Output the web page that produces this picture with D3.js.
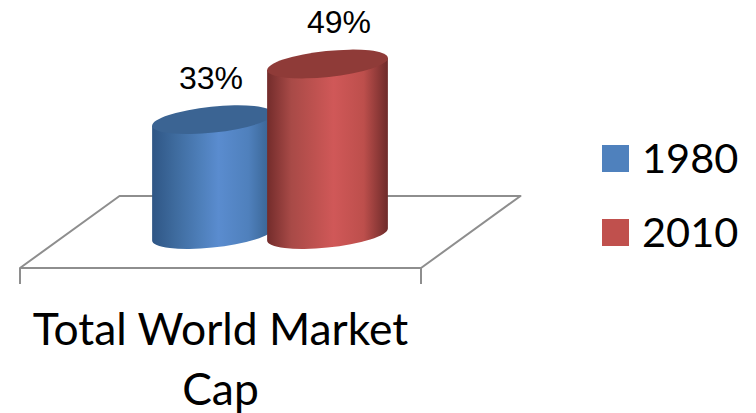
<!DOCTYPE html>
<html>
<head>
<meta charset="utf-8">
<script src="https://cdn.jsdelivr.net/npm/d3@7"></script>
<style>
html,body{margin:0;padding:0;background:#fff}
svg{display:block}
</style>
</head>
<body>
<script>
const categories = ["Total World Market Cap"];
const categoryLines = ["Total World Market", "Cap"];
const seriesNames = ["1980", "2010"];
const seriesValues = [33, 49];
const valueLabels = ["33%", "49%"];
const sideStops = [
  ["#2f5685", "#3f6c9f", "#4e7fba", "#5a8ccf", "#4f80bc", "#36618f"],
  ["#732c2b", "#a84a47", "#bf5250", "#d05858", "#bd4f4c", "#6e2b2a"]
];
const topColors = ["#3b6493", "#8f3b38"];
const swatchColors = ["#4f81bd", "#c0504d"];

const svg = d3.select("body").append("svg").attr("width", 756).attr("height", 413);
const defs = svg.append("defs");

const x = d3.scalePoint().domain(seriesNames).range([212.5, 327.5]);
const y = d3.scaleLinear().domain([0, 49]).range([234.5, 64]);

// Ellipse shape shared by every cylinder cap and base
const rx = 60.7, ry = 13, tilt = -6;
const th = tilt * Math.PI / 180;
const t0 = Math.atan(-(ry / rx) * Math.tan(th));
const edgeX = rx * Math.cos(t0) * Math.cos(th) - ry * Math.sin(t0) * Math.sin(th);
const edgeY = rx * Math.cos(t0) * Math.sin(th) + ry * Math.sin(t0) * Math.cos(th);

// Floor of the 3D plot
const floorLayer = svg.append("g").attr("fill", "none").attr("stroke", "#8e8e8e").attr("stroke-width", 2);
const floorX = d3.scaleLinear().domain([0, 1]).range([20, 421]);
const depth = { dx: 99.5, dy: -72 };
const floorY = 268;
floorLayer.append("path").attr("stroke-linejoin", "round").attr("d", d3.line()([
  [floorX(0), floorY + 16], [floorX(0), floorY], [floorX(0) + depth.dx, floorY + depth.dy],
  [floorX(1) + depth.dx, floorY + depth.dy], [floorX(1), floorY], [floorX(1), floorY + 16]
]));
floorLayer.append("path").attr("d", d3.line()([[floorX(0), floorY], [floorX(1), floorY]]));

// Cylinders, the earlier series first so the later one overlaps it
seriesNames.forEach((name, i) => {
  const grad = defs.append("linearGradient").attr("id", "side" + i);
  const offsets = [0, 0.2, 0.4, 0.55, 0.8, 1];
  sideStops[i].forEach((c, k) => grad.append("stop").attr("offset", offsets[k]).attr("stop-color", c));

  const cx = x(name), top = y(seriesValues[i]), base = y(0);
  const g = svg.append("g");
  g.append("path")
    .attr("fill", `url(#side${i})`)
    .attr("d", `M${cx - edgeX},${top - edgeY} L${cx - edgeX},${base - edgeY}` +
      ` A${rx},${ry} ${tilt} 0 0 ${cx + edgeX},${base + edgeY}` +
      ` L${cx + edgeX},${top + edgeY} Z`);
  g.append("ellipse")
    .attr("rx", rx).attr("ry", ry)
    .attr("transform", `translate(${cx},${top}) rotate(${tilt})`)
    .attr("fill", topColors[i]);
});

// Percentage labels above each cylinder
const labelX = d3.scalePoint().domain(seriesNames).range([211, 339]);
svg.append("g").selectAll("text").data(seriesNames).join("text")
  .attr("x", d => labelX(d))
  .attr("y", (d, i) => y(seriesValues[i]) - 31)
  .attr("text-anchor", "middle")
  .attr("font-family", "'Liberation Sans', sans-serif")
  .attr("font-size", 32)
  .attr("fill", "#000")
  .text((d, i) => valueLabels[i]);

// Category label wrapped over two lines
const cat = d3.scaleBand().domain(categories).range([20, 421]);
svg.append("g").selectAll("text").data(categoryLines).join("text")
  .attr("x", cat(categories[0]) + cat.bandwidth() / 2)
  .attr("y", (d, i) => 345 + i * 60)
  .attr("text-anchor", "middle")
  .attr("font-family", "Lato, sans-serif")
  .attr("font-size", 44.4)
  .attr("fill", "#000")
  .text(d => d);

// Legend
const legendY = d3.scalePoint().domain(seriesNames).range([145, 219]);
const legend = svg.append("g").selectAll("g").data(seriesNames).join("g")
  .attr("transform", d => `translate(602,${legendY(d)})`);
legend.append("rect").attr("width", 27).attr("height", 27).attr("fill", (d, i) => swatchColors[i]);
legend.append("text").attr("x", 40).attr("y", 28)
  .attr("font-family", "Lato, sans-serif").attr("font-size", 41.5).attr("fill", "#000")
  .text(d => d);
</script>
</body>
</html>
